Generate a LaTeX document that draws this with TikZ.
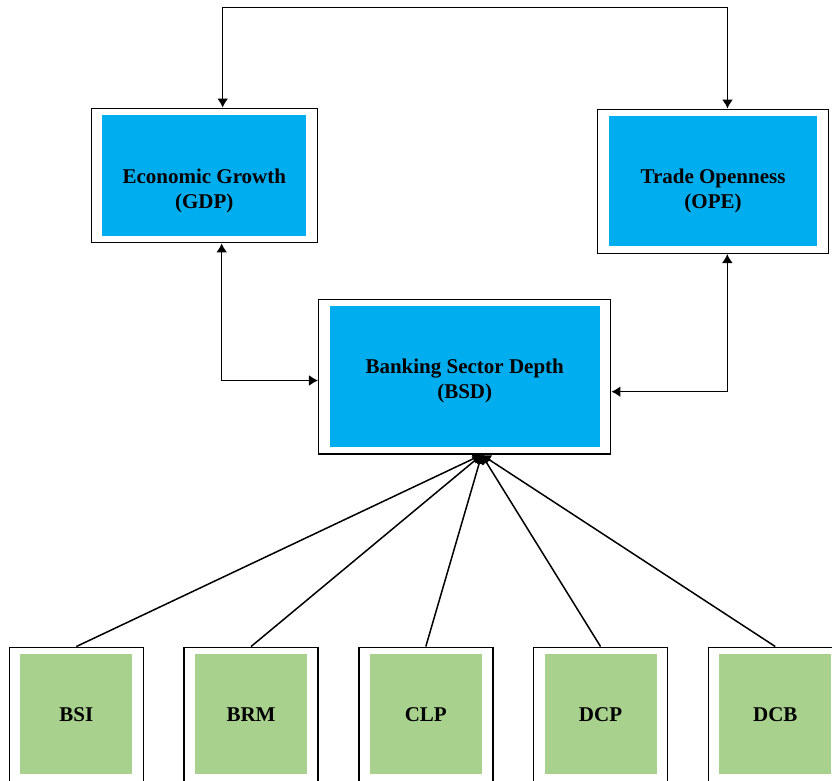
\documentclass[tikz,border=0pt]{standalone}
\usepackage{fontspec}
\setmainfont{Liberation Serif}
\usetikzlibrary{arrows.meta}

\definecolor{azulcaixa}{RGB}{0,174,239}
\definecolor{verdecaixa}{RGB}{169,209,142}

\begin{document}
\begin{tikzpicture}[x=0.5pt,y=-0.5pt]
  %--------------------------------------------
  % Margens internas das caixas (faixa branca)
  %--------------------------------------------
  \def\mx{5.5pt}   % margem horizontal
  \def\my{3.5pt}   % margem vertical

  %--------------------------------------------
  % Estilos
  %--------------------------------------------
  \tikzstyle{caixa} = [
    draw, fill=white, rectangle, line width=.75pt,  % contorno preto e fundo branco
    inner sep=0pt, align=center,
    font=\bfseries\fontsize{10.5}{12.5}\selectfont
  ]
  \tikzstyle{fundoazul} = [path picture={
    \fill[azulcaixa] ([xshift=\mx,yshift=-\my]path picture bounding box.north west)
      rectangle ([xshift=-\mx,yshift=\my]path picture bounding box.south east);}]
  \tikzstyle{fundoverde} = [path picture={
    \fill[verdecaixa] ([xshift=\mx,yshift=-\my]path picture bounding box.north west)
      rectangle ([xshift=-\mx,yshift=\my]path picture bounding box.south east);}]
  \tikzstyle{texto} = [align=center, inner sep=0pt,
    font=\bfseries\fontsize{10.5}{12.5}\selectfont]
  \tikzstyle{seta} = [line width=.75pt,
    {Latex[length=4.5pt,width=5.5pt]}-{Latex[length=4.5pt,width=5.5pt]}]

  % area da figura
  \useasboundingbox (0,0) rectangle (832,781);

  %--------------------------------------------
  % Caixas azuis
  %--------------------------------------------
  \node[caixa, fundoazul, minimum width=113pt, minimum height=67.2pt] (gdp) at (204.3,175.5) {};
  \node[texto] (gdptexto) at (204.3,190.5) {Economic Growth\\(GDP)};

  \node[caixa, fundoazul, minimum width=115.3pt, minimum height=72pt] (ope) at (713,181.3) {};
  \node[texto] (opetexto) at (713,190.8) {Trade Openness\\(OPE)};

  \node[caixa, fundoazul, minimum width=146pt, minimum height=77.35pt] (bsd) at (464.7,376.7) {};
  \node[texto] (bsdtexto) at (464.7,380.8) {Banking Sector Depth\\(BSD)};

  %--------------------------------------------
  % Ligacoes entre as caixas azuis
  %--------------------------------------------
  \coordinate (topoesq) at (222.7,7.5);
  \coordinate (topodir) at (727.5,7.5);
  \draw[seta] (gdp.north -| topoesq) -- (topoesq) -- (topodir) -- (ope.north -| topodir);

  \coordinate (cantoesq) at (221.7,380.5);
  \draw[seta] (gdp.south -| cantoesq) -- (cantoesq) -- (bsd.west |- cantoesq);

  \coordinate (cantodir) at (727.3,391.7);
  \draw[seta] (ope.south -| cantodir) -- (cantodir) -- (bsd.east |- cantodir);

  %--------------------------------------------
  % Caixas verdes com setas para BSD
  %--------------------------------------------
  \coordinate (foco) at ([xshift=8.5pt]bsd.south);
  \foreach [count=\i] \nome in {BSI,BRM,CLP,DCP,DCB}
  {
    \node[caixa, fundoverde, minimum width=67pt, minimum height=67pt]
      (b\i) at ({76.3+174.75*(\i-1)},714.3) {\nome};
    \draw[line width=.75pt, -{Latex[length=4.5pt,width=5.5pt]}] (b\i.north) -- (foco);
  }
\end{tikzpicture}
\end{document}
